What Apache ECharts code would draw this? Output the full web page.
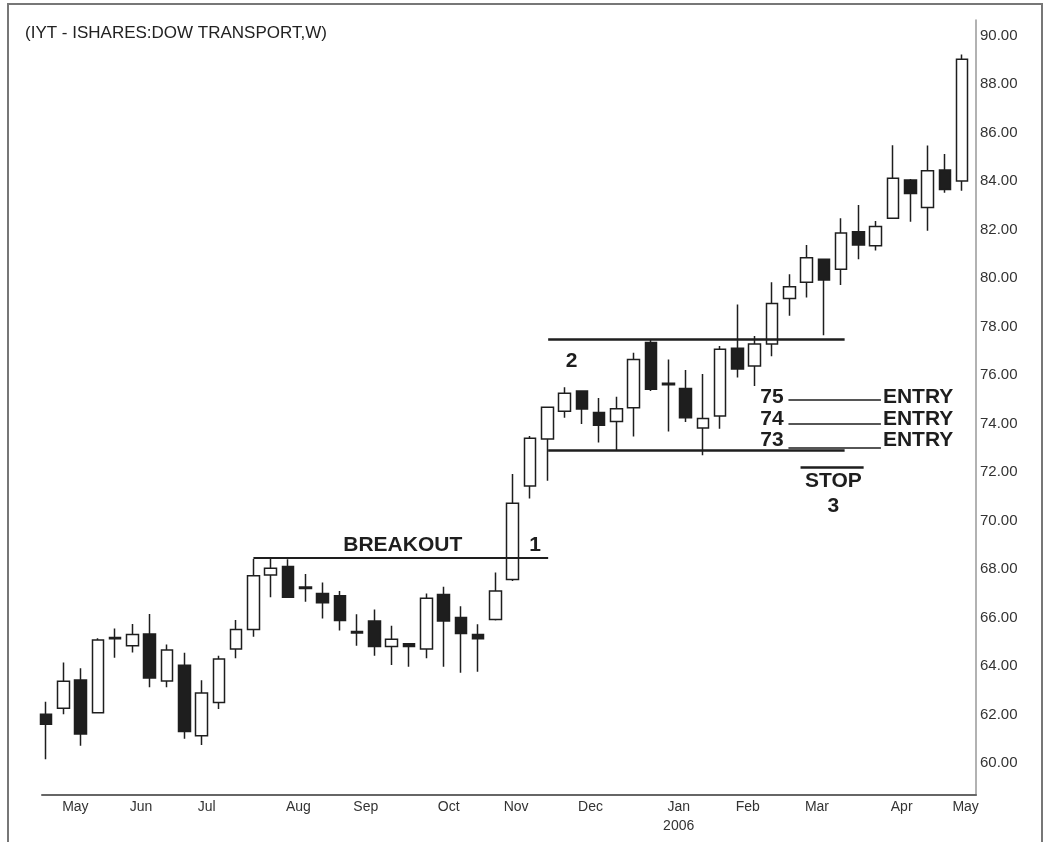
<!DOCTYPE html>
<html lang="en">
<head>
  <meta charset="UTF-8">
  <title>IYT - iShares Dow Transport, weekly</title>
  <script src="https://cdn.jsdelivr.net/npm/echarts@6/dist/echarts.min.js"></script>
  <style>
    body { margin: 0; background: #fff; }
    #chart { width: 1053px; height: 842px; }
  </style>
</head>
<body>
  <div id="chart"></div>
  <script>
    // weekly bars, Apr 2005 - May 2006
    var weeks = ['2005-04-25','2005-05-02','2005-05-09','2005-05-16','2005-05-23','2005-05-30',
      '2005-06-06','2005-06-13','2005-06-20','2005-06-27','2005-07-04','2005-07-11','2005-07-18',
      '2005-07-25','2005-08-01','2005-08-08','2005-08-15','2005-08-22','2005-08-29','2005-09-05',
      '2005-09-12','2005-09-19','2005-09-26','2005-10-03','2005-10-10','2005-10-17','2005-10-24',
      '2005-10-31','2005-11-07','2005-11-14','2005-11-21','2005-11-28','2005-12-05','2005-12-12',
      '2005-12-19','2005-12-26','2006-01-02','2006-01-09','2006-01-16','2006-01-23','2006-01-30',
      '2006-02-06','2006-02-13','2006-02-20','2006-02-27','2006-03-06','2006-03-13','2006-03-20',
      '2006-03-27','2006-04-03','2006-04-10','2006-04-17','2006-04-24','2006-05-01'];

    var opens  = [62.01,62.26,63.42,62.07,65.17,64.84,65.32,63.38,64.03,61.12,62.49,64.70,65.51,67.75,
                  68.10,67.26,66.99,66.90,65.42,65.86,64.80,64.92,64.70,66.95,66.00,65.30,65.92,67.57,
                  71.42,73.36,74.51,75.34,74.45,74.08,74.65,77.34,75.66,75.44,73.81,74.31,77.10,76.37,
                  77.28,79.16,79.82,80.77,80.36,81.91,81.33,82.46,84.04,82.91,84.45,84.00];
    var closes = [61.60,63.37,61.20,65.07,65.12,65.30,63.51,64.66,61.30,62.89,64.29,65.51,67.72,68.03,
                  66.83,67.20,66.61,65.88,65.36,64.80,65.10,64.80,66.79,65.86,65.34,65.12,67.09,70.71,
                  73.39,74.67,75.25,74.60,73.93,74.61,76.64,75.41,75.60,74.24,74.21,77.06,76.25,77.28,
                  78.95,79.64,80.84,79.92,81.86,81.36,82.12,84.11,83.49,84.42,83.65,89.02];
    var lows   = [60.15,62.01,60.71,62.05,64.34,64.56,63.12,63.12,61.00,60.74,62.23,64.32,65.21,66.83,
                  66.80,66.65,65.96,65.46,64.84,64.42,64.04,63.97,64.32,63.97,63.72,63.76,65.88,67.50,
                  70.91,71.64,74.24,73.98,73.22,72.88,73.46,75.34,73.67,74.06,72.69,73.78,75.90,75.55,
                  76.77,78.44,79.20,77.64,79.71,80.77,81.13,82.46,82.32,81.95,83.52,83.60];
    var highs  = [62.53,64.14,63.91,65.14,65.55,65.73,66.14,64.89,64.55,63.41,64.42,65.90,68.41,68.41,
                  68.40,67.79,67.44,67.09,66.13,66.33,65.66,64.95,66.99,67.27,66.46,65.72,67.86,71.92,
                  73.48,74.70,75.49,75.36,75.05,75.10,76.92,77.47,76.64,76.21,76.04,77.20,78.91,77.61,
                  79.82,80.15,81.36,80.80,82.46,83.01,82.35,85.48,84.08,85.46,85.11,89.22];

    // axis labels
    var monthNames = ['May','Jun','Jul','Aug','Sep','Oct','Nov','Dec','Jan\n2006','Feb','Mar','Apr','May'];
    var monthTicks = [1.7, 5.5, 9.3, 14.6, 18.5, 23.3, 27.2, 31.5, 36.6, 40.6, 44.6, 49.5, 53.2];
    var priceTicks = [60,62,64,66,68,70,72,74,76,78,80,82,84,86,88,90];

    // drawn-in annotation lines: [x from, x to, price]
    var breakoutLine = [12, 29.05, 68.45];
    var rangeTop = [29.05, 46.2, 77.48];
    var rangeBottom = [29.05, 46.2, 72.88];
    var entryLines = [[42.95, 48.3, 75], [42.95, 48.3, 74], [42.95, 48.3, 73]];
    var stopBar = [43.65, 47.3, 72.19];

    // text notes: [label, x, price]
    var notes = [
      ['BREAKOUT', 20.64, 68.99],
      ['1', 28.3, 68.99],
      ['2', 30.4, 76.58],
      ['75', 42.0, 75.07],
      ['74', 42.0, 74.17],
      ['73', 42.0, 73.32],
      ['ENTRY', 50.45, 75.07],
      ['ENTRY', 50.45, 74.17],
      ['ENTRY', 50.45, 73.32],
      ['STOP', 45.55, 71.63],
      ['3', 45.55, 70.6]
    ];

    var candles = [];
    for (var i = 0; i < weeks.length; i++) {
      candles.push({ name: weeks[i], value: [i, opens[i], closes[i], lows[i], highs[i]] });
    }

    function seg(s, w) {
      return [
        { coord: [s[0], s[2]], lineStyle: { width: w } },
        { coord: [s[1], s[2]] }
      ];
    }
    var lines = [seg(breakoutLine, 2), seg(rangeTop, 2.5), seg(rangeBottom, 2.5), seg(stopBar, 2.5)];
    entryLines.forEach(function (e) { lines.push(seg(e, 1.5)); });

    var font = "'Liberation Sans', Arial, sans-serif";

    var chart = echarts.init(document.getElementById('chart'));
    chart.setOption({
      animation: false,
      backgroundColor: '#fff',
      title: {
        text: '(IYT - ISHARES:DOW TRANSPORT,W)',
        left: 20, top: 20,
        textStyle: { fontFamily: font, fontSize: 17, fontWeight: 'normal', color: '#222' }
      },
      graphic: [{
        type: 'rect',
        shape: { x: 8, y: 4, width: 1034, height: 860 },
        style: { fill: 'none', stroke: '#777', lineWidth: 2 },
        silent: true
      }],
      grid: { left: 42, right: 77, top: 20, bottom: 47 },
      xAxis: {
        type: 'value',
        min: -0.23,
        max: 53.8,
        splitLine: { show: false },
        axisLine: { show: true, onZero: false, lineStyle: { color: '#666', width: 2 } },
        axisTick: { show: false },
        axisLabel: {
          customValues: monthTicks,
          formatter: function (v) {
            var k = monthTicks.indexOf(v);
            return k >= 0 ? monthNames[k] : '';
          },
          margin: 3,
          lineHeight: 19,
          fontFamily: font, fontSize: 14, color: '#333',
          verticalAlign: 'top'
        }
      },
      yAxis: {
        type: 'value',
        position: 'right',
        min: 58.68,
        max: 90.64,
        scale: true,
        splitLine: { show: false },
        axisLine: { show: true, onZero: false, lineStyle: { color: '#999', width: 1.5 } },
        axisTick: { show: false },
        axisLabel: {
          customValues: priceTicks,
          formatter: function (v) { return v.toFixed(2); },
          margin: 4,
          fontFamily: font, fontSize: 15, color: '#333'
        }
      },
      series: [{
        type: 'candlestick',
        data: candles,
        barWidth: 12,
        itemStyle: {
          color: '#fff',
          color0: '#1e1e1e',
          borderColor: '#1e1e1e',
          borderColor0: '#1e1e1e',
          borderColorDoji: '#1e1e1e',
          borderWidth: 1.5
        },
        markLine: {
          silent: true,
          symbol: 'none',
          label: { show: false },
          lineStyle: { color: '#1e1e1e', type: 'solid', width: 2 },
          data: lines
        },
        markPoint: {
          silent: true,
          symbolSize: 0,
          label: {
            show: true,
            position: 'inside',
            formatter: '{b}',
            fontFamily: font,
            fontSize: 21,
            fontWeight: 'bold',
            color: '#1e1e1e'
          },
          data: notes.map(function (n) { return { name: n[0], coord: [n[1], n[2]] }; })
        }
      }]
    });
  </script>
</body>
</html>
